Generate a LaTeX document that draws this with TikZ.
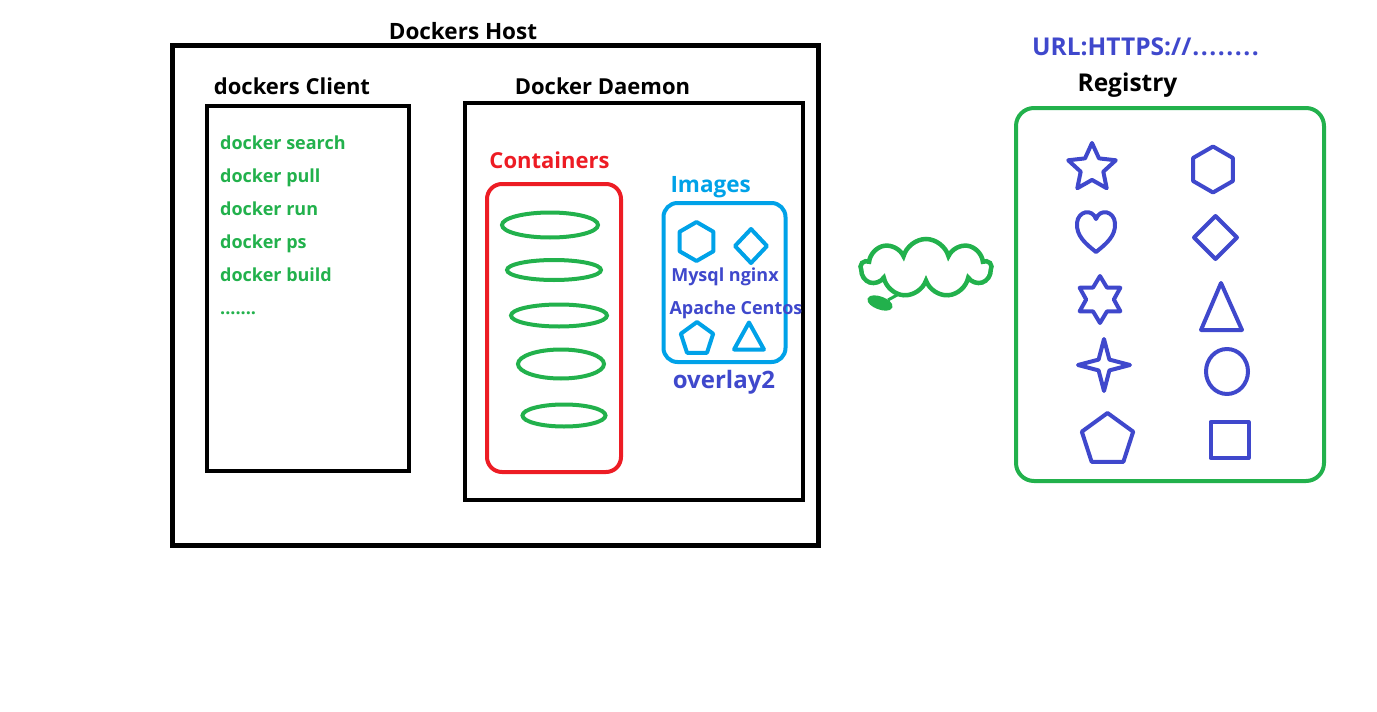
\documentclass[tikz,border=0pt]{standalone}
\usepackage{fontspec}
\setmainfont{Open Sans}
\usetikzlibrary{shapes.geometric,shapes.symbols}
\definecolor{pgreen}{RGB}{34,177,76}
\definecolor{pred}{RGB}{237,28,36}
\definecolor{psky}{RGB}{0,162,232}
\definecolor{pindigo}{RGB}{63,72,204}
\tikzset{
  box/.style={draw=black, line width=4pt, inner sep=0pt, outer sep=0pt},
  rbox/.style={draw, line width=4pt, rounded corners=#1, inner sep=0pt},
  big/.style={font=\fontsize{#1}{24}\selectfont\bfseries, anchor=base, inner sep=0pt},
  big/.default=22,
  cmd/.style={font=\fontsize{18}{22}\selectfont\bfseries, text=pgreen, anchor=base west, inner sep=0pt},
  small/.style={font=\fontsize{18}{20}\selectfont\bfseries, text=pindigo, anchor=base, inner sep=0pt},
  cont/.style={ellipse, draw=pgreen, line width=4pt, inner sep=0pt},
  sym/.style={draw=pindigo, line width=4pt, inner sep=0pt, line join=round},
  isym/.style={draw=psky, line width=4pt, inner sep=0pt, line join=round},
}
\begin{document}
\begin{tikzpicture}[x=1pt,y=-1pt]
\useasboundingbox (0,0) rectangle (1377,712);
% Docker host
\node[box, line width=5pt, minimum width=646pt, minimum height=500pt] (host) at (495,295) {};
\node[big=22.5] (hostlbl) at (463,39) {Dockers Host};
% client
\node[box, minimum width=202pt, minimum height=365pt] (client) at (308,288.5) {};
\node[big=22] (clientlbl) at (292,94) {dockers Client};
\node[cmd] (c1) at (220,149) {docker search};
\node[cmd] (c2) at (220,182) {docker pull};
\node[cmd] (c3) at (220,215) {docker run};
\node[cmd] (c4) at (220,248) {docker ps};
\node[cmd] (c5) at (220,281) {docker build};
\node[cmd] (c6) at (220,314) {.......};
% daemon
\node[box, minimum width=338pt, minimum height=397pt] (daemon) at (634,301.5) {};
\node[big=22] (daemonlbl) at (602.5,94) {Docker Daemon};
% containers
\node[big=22, text=pred] (contlbl) at (549.5,168.5) {Containers};
\node[rbox=15pt, draw=pred, minimum width=134pt, minimum height=288pt] (contbox) at (554,328) {};
\node[cont, minimum width=96pt, minimum height=25pt] (e1) at (550,225) {};
\node[cont, minimum width=94pt, minimum height=20pt] (e2) at (554,270) {};
\node[cont, minimum width=96pt, minimum height=22pt] (e3) at (559,315.5) {};
\node[cont, minimum width=86pt, minimum height=29pt] (e4) at (561,364) {};
\node[cont, minimum width=83pt, minimum height=22pt] (e5) at (564,415.5) {};
% images
\node[big=22.5, text=psky] (imglbl) at (710.7,192.5) {Images};
\node[rbox=14pt, draw=psky, minimum width=122pt, minimum height=159pt] (imgbox) at (724.5,282.5) {};
\node[isym, regular polygon, regular polygon sides=6, shape border rotate=30, minimum size=39pt] (ihex) at (696.5,241.5) {};
\draw[isym] (751,229) -- (767,246) -- (751,263) -- (735,246) -- cycle;
\node[isym, regular polygon, regular polygon sides=5, minimum size=34pt] (ipent) at (697,339) {};
\draw[isym] (749,322.5) -- (764,349.5) -- (734,349.5) -- cycle;
\node[small] (mysql) at (725,281.5) {Mysql nginx};
\node[small] (apache) at (736,314) {Apache Centos};
\node[big=24, text=pindigo] (overlay) at (724,388) {overlay2};
% cloud
\node[cloud, cloud puffs=9, aspect=2.3, draw=pgreen, line width=4.5pt, minimum width=130pt, minimum height=58pt, inner sep=0pt] (cloud) at (926,268) {};
\draw[pgreen, line width=4pt, fill=pgreen, rotate around={-20:(880,303)}] (880,303) ellipse (11pt and 4.5pt);
\draw[pgreen, line width=3pt] (888,300) -- (899,294);
% registry
\node[big=24.5, text=pindigo] (url) at (1145.5,55.5) {URL:HTTPS://\kern1pt.\kern1.5pt.\kern1.5pt.\kern1.5pt.\kern1.5pt.\kern1.5pt.\kern1.5pt.\kern1.5pt.};
\node[big=24.5] (reglbl) at (1127.5,91.5) {Registry};
\node[rbox=18pt, draw=pgreen, minimum width=308pt, minimum height=373pt] (regbox) at (1170,294.5) {};
\node[sym, star, star points=5, star point ratio=2.1, minimum size=50pt] (rstar5) at (1092,168) {};
\node[sym, regular polygon, regular polygon sides=6, shape border rotate=30, minimum size=46pt] (rhex) at (1213,169.5) {};
\draw[sym] (1096,252) .. controls (1086,244) and (1076,236) .. (1077,223)
  .. controls (1078,211) and (1092,208) .. (1096,219)
  .. controls (1100,208) and (1114,211) .. (1115,223)
  .. controls (1116,236) and (1106,244) .. (1096,252) -- cycle;
\draw[sym] (1215.5,216) -- (1237,237.5) -- (1215.5,259) -- (1194,237.5) -- cycle;
\node[sym, star, star points=6, star point ratio=1.7, minimum size=47pt] (rstar6) at (1100,299.5) {};
\draw[sym] (1221,283) -- (1242,330) -- (1201,330) -- cycle;
\node[sym, star, star points=4, star point ratio=3.4, minimum size=52pt] (rstar4) at (1104,365) {};
\node[sym, ellipse, minimum width=42pt, minimum height=45pt] (rcirc) at (1227,371.5) {};
\node[sym, regular polygon, regular polygon sides=5, minimum size=54pt] (rpent) at (1107.5,440) {};
\node[sym, rectangle, minimum width=38pt, minimum height=36pt] (rsq) at (1229.5,440) {};
\end{tikzpicture}
\end{document}
